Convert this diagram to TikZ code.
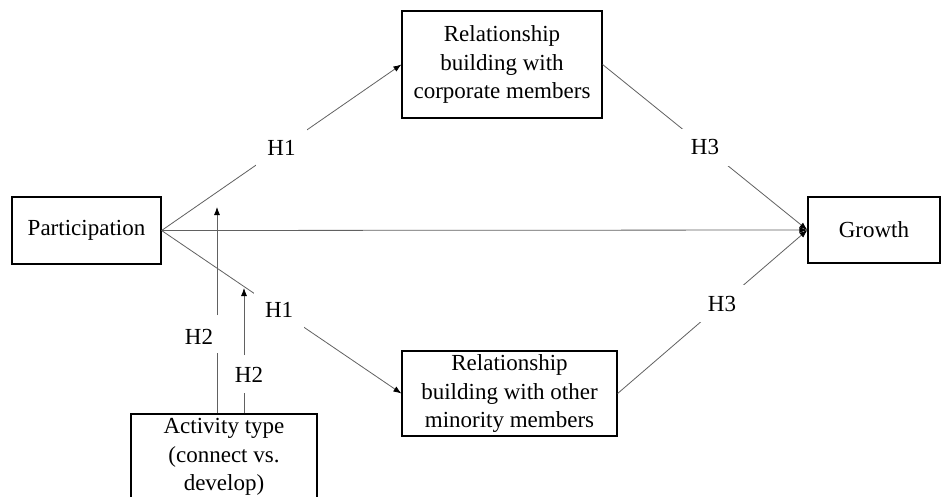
\documentclass[tikz,border=0pt]{standalone}
\usepackage{fontspec}
\setmainfont{Liberation Serif}
\usetikzlibrary{arrows.meta}
\tikzset{
  box/.style={draw=black, line width=1.2pt, align=center, inner sep=0pt, font=\fontsize{23}{28.5}\selectfont},
  conn/.style={draw=black!62, line width=0.8pt},
  tip/.style={-{Latex[length=8pt,width=6pt,black]}},
  lbl/.style={fill=white, inner sep=11pt, font=\fontsize{23}{28.5}\selectfont},
  plainlbl/.style={inner sep=0pt, font=\fontsize{23}{28.5}\selectfont}
}
\begin{document}
\begin{tikzpicture}[x=1pt,y=-1pt]
\useasboundingbox[fill=white] (0,0) rectangle (945,496);
\begin{scope}
\clip (0,0) rectangle (945,496);
\node[box, minimum width=149pt, minimum height=67pt] (part) at (86.5,230.5) {Participation};
\node[box, minimum width=200pt, minimum height=107pt] (top) at (502,64.5) {Relationship\\building with\\corporate members};
\node[box, minimum width=215pt, minimum height=85pt] (bot) at (509.5,393.5) {Relationship\\building with other\\minority members};
\node[box, minimum width=132pt, minimum height=66pt] (growth) at (874,230) {Growth};
\node[box, minimum width=186pt, minimum height=86pt] (act) at (224,457) {Activity type\\(connect vs.\\develop)};

\draw[conn, tip] (part.east) -- node[lbl, pos=0.5] {H1} (top.west);
\draw[conn, tip] (part.east) -- node[lbl, pos=0.49] {H1} (bot.west);
\draw[conn, tip] (part.east) -- (growth.west);
\draw[conn, tip] (top.east) -- node[lbl, pos=0.5] {H3} (growth.west);
\draw[conn, tip] (bot.east) -- node[lbl, pos=0.55] {H3} (growth.west);

\coordinate (h2atip) at (217,207);
\coordinate (h2ahi) at (217,315);
\coordinate (h2alo) at (217,353);
\coordinate (h2btip) at (244,288);
\coordinate (h2bhi) at (244,355);
\coordinate (h2blo) at (244,393);
\draw[conn] (act.north -| h2alo) -- (h2alo);
\draw[conn, tip] (h2ahi) -- (h2atip);
\draw[conn] (act.north -| h2blo) -- (h2blo);
\draw[conn, tip] (h2bhi) -- (h2btip);
\node[plainlbl] (h2alabel) at (199,337) {H2};
\node[plainlbl] (h2blabel) at (249,375) {H2};
\end{scope}
\end{tikzpicture}
\end{document}
